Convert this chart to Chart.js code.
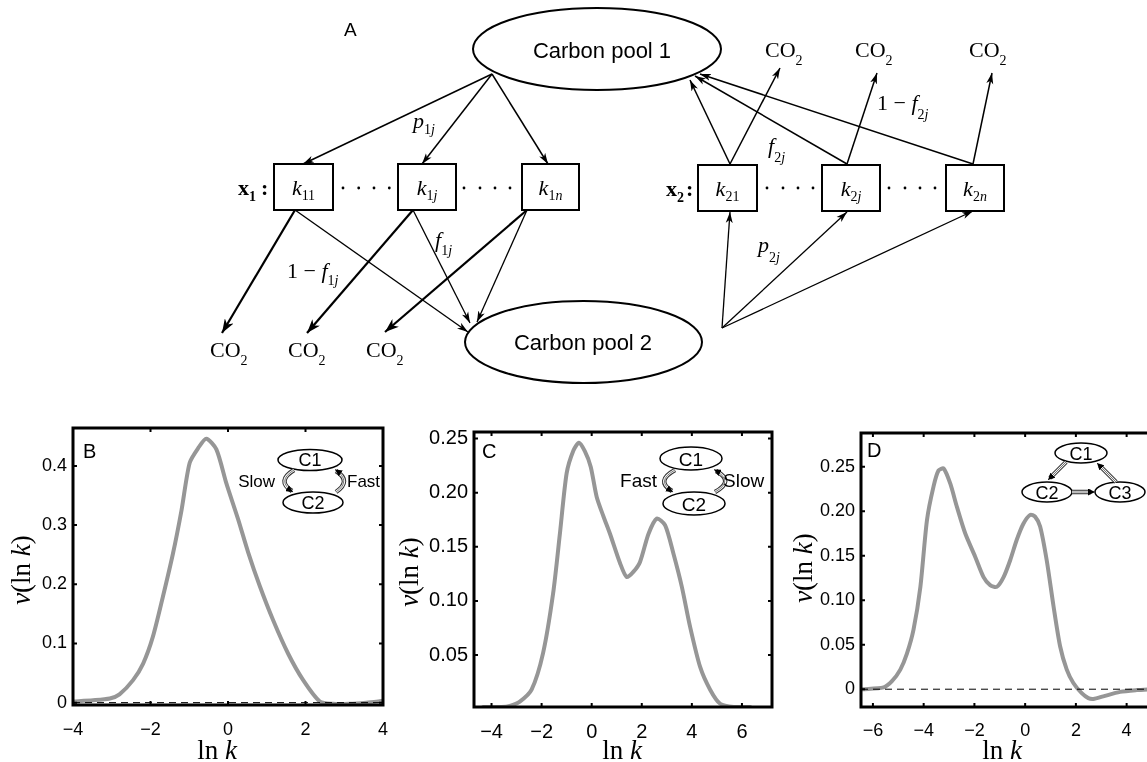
<!DOCTYPE html>
<html><head><meta charset="utf-8">
<script src="https://cdn.jsdelivr.net/npm/chart.js@4.4.0/dist/chart.umd.min.js"></script>
<style>
html,body{margin:0;padding:0;background:#fff;}
body{width:1147px;height:762px;position:relative;overflow:hidden;}
canvas{position:absolute;top:420px;}
#ov{position:absolute;left:0;top:0;width:1147px;height:762px;pointer-events:none;}
.s{font-family:"Liberation Sans",Arial,sans-serif;}
.t{font-family:"Liberation Serif","Times New Roman",serif;}
</style></head><body>
<canvas id="cB" width="400" height="342" style="left:0px"></canvas>
<canvas id="cC" width="380" height="342" style="left:400px"></canvas>
<canvas id="cD" width="380" height="342" style="left:780px"></canvas>
<svg id="ov" width="1147" height="762" xmlns="http://www.w3.org/2000/svg">
<defs>
<marker id="ah" markerUnits="userSpaceOnUse" markerWidth="12" markerHeight="8" refX="11" refY="4" orient="auto"><path d="M0,0.5 L11,4 L0,7.5 L3,4 Z" fill="#000"/></marker>
<marker id="ahb" markerUnits="userSpaceOnUse" markerWidth="15" markerHeight="10" refX="14" refY="5" orient="auto"><path d="M0,0 L14,5 L0,10 L4,5 Z" fill="#000"/></marker>
<marker id="ahs" markerUnits="userSpaceOnUse" markerWidth="8" markerHeight="7" refX="7" refY="3.5" orient="auto"><path d="M0,0 L7,3.5 L0,7 Z" fill="#000"/></marker>
</defs>
<!-- Diagram A -->
<text x="344" y="36" class="s" font-size="19">A</text>
<ellipse cx="597" cy="49" rx="124" ry="41" fill="none" stroke="#000" stroke-width="2"/>
<text x="602" y="58" class="s" font-size="22" text-anchor="middle">Carbon pool 1</text>
<ellipse cx="583.5" cy="342" rx="118.5" ry="41" fill="none" stroke="#000" stroke-width="2"/>
<text x="583" y="350" class="s" font-size="22" text-anchor="middle">Carbon pool 2</text>
<g fill="none" stroke="#000" stroke-width="2">
<rect x="274" y="164" width="59" height="46"/>
<rect x="398" y="164" width="58" height="46"/>
<rect x="522" y="164" width="57" height="46"/>
<rect x="698" y="165" width="59" height="46"/>
<rect x="822" y="165" width="58" height="46"/>
<rect x="946" y="165" width="58" height="46"/>
</g>
<g class="t" font-size="22" text-anchor="middle">
<text x="303.5" y="195"><tspan font-style="italic">k</tspan><tspan font-size="14" dy="5">11</tspan></text>
<text x="427" y="195"><tspan font-style="italic">k</tspan><tspan font-size="14" dy="5">1</tspan><tspan font-size="14" font-style="italic">j</tspan></text>
<text x="550.5" y="195"><tspan font-style="italic">k</tspan><tspan font-size="14" dy="5">1</tspan><tspan font-size="14" font-style="italic">n</tspan></text>
<text x="727.5" y="196"><tspan font-style="italic">k</tspan><tspan font-size="14" dy="5">21</tspan></text>
<text x="851" y="196"><tspan font-style="italic">k</tspan><tspan font-size="14" dy="5">2</tspan><tspan font-size="14" font-style="italic">j</tspan></text>
<text x="975" y="196"><tspan font-style="italic">k</tspan><tspan font-size="14" dy="5">2</tspan><tspan font-size="14" font-style="italic">n</tspan></text>
</g>
<text x="238" y="195" class="t" font-size="22" font-weight="bold">x<tspan font-size="14" dy="6">1</tspan></text>
<text x="261" y="195" class="t" font-size="22" font-weight="bold">:</text>
<text x="666" y="196" class="t" font-size="22" font-weight="bold">x<tspan font-size="14" dy="6">2</tspan></text>
<text x="686" y="196" class="t" font-size="22" font-weight="bold">:</text>
<g fill="#000">
<circle cx="343" cy="188" r="1.4"/><circle cx="358.7" cy="188" r="1.4"/><circle cx="374" cy="188" r="1.4"/><circle cx="389.3" cy="188" r="1.4"/>
<circle cx="464" cy="188" r="1.4"/><circle cx="480" cy="188" r="1.4"/><circle cx="495" cy="188" r="1.4"/><circle cx="510" cy="188" r="1.4"/>
<circle cx="767" cy="188" r="1.4"/><circle cx="783" cy="188" r="1.4"/><circle cx="798" cy="188" r="1.4"/><circle cx="813" cy="188" r="1.4"/>
<circle cx="889" cy="188" r="1.4"/><circle cx="905" cy="188" r="1.4"/><circle cx="920" cy="188" r="1.4"/><circle cx="935" cy="188" r="1.4"/>
</g>
<g class="t" font-size="22">
<text x="210" y="357">CO<tspan font-size="14" dy="8">2</tspan></text>
<text x="288" y="357">CO<tspan font-size="14" dy="8">2</tspan></text>
<text x="366" y="357">CO<tspan font-size="14" dy="8">2</tspan></text>
<text x="765" y="57">CO<tspan font-size="14" dy="8">2</tspan></text>
<text x="855" y="57">CO<tspan font-size="14" dy="8">2</tspan></text>
<text x="969" y="57">CO<tspan font-size="14" dy="8">2</tspan></text>
<text x="413" y="128"><tspan font-style="italic">p</tspan><tspan font-size="14" dy="6">1</tspan><tspan font-size="14" font-style="italic">j</tspan></text>
<text x="435" y="247"><tspan font-style="italic">f</tspan><tspan font-size="14" dy="8">1</tspan><tspan font-size="14" font-style="italic">j</tspan></text>
<text x="287" y="278">1 − <tspan font-style="italic">f</tspan><tspan font-size="14" dy="7">1</tspan><tspan font-size="14" font-style="italic">j</tspan></text>
<text x="768" y="153"><tspan font-style="italic">f</tspan><tspan font-size="14" dy="9">2</tspan><tspan font-size="14" font-style="italic">j</tspan></text>
<text x="877" y="110">1 − <tspan font-style="italic">f</tspan><tspan font-size="14" dy="9">2</tspan><tspan font-size="14" font-style="italic">j</tspan></text>
<text x="758" y="252"><tspan font-style="italic">p</tspan><tspan font-size="14" dy="10">2</tspan><tspan font-size="14" font-style="italic">j</tspan></text>
</g>
<g stroke="#000" fill="none">
<g stroke-width="1.5" marker-end="url(#ah)">
<line x1="492" y1="74" x2="303" y2="164"/>
<line x1="492" y1="74" x2="422" y2="164"/>
<line x1="492" y1="74" x2="548" y2="164"/>
<line x1="730" y1="164" x2="690" y2="80"/>
<line x1="847" y1="164" x2="695" y2="76"/>
<line x1="973" y1="164" x2="700" y2="74"/>
<line x1="730" y1="164" x2="780" y2="68"/>
<line x1="847" y1="164" x2="877" y2="73"/>
<line x1="973" y1="164" x2="992" y2="73"/>
</g>
<g stroke-width="2.2" marker-end="url(#ahb)">
<line x1="295" y1="210" x2="222" y2="333"/>
<line x1="413" y1="210" x2="307" y2="333"/>
<line x1="527" y1="210" x2="385" y2="332"/>
</g>
<g stroke-width="1.3" marker-end="url(#ah)">
<line x1="295" y1="210" x2="468" y2="332"/>
<line x1="413" y1="210" x2="470" y2="323"/>
<line x1="527" y1="210" x2="477" y2="322"/>
<line x1="722" y1="328" x2="730" y2="212"/>
<line x1="722" y1="328" x2="847" y2="212"/>
<line x1="722" y1="328" x2="973" y2="211"/>
</g>
</g>
<!-- panel letters -->
<text x="83" y="458" class="s" font-size="20">B</text>
<text x="482" y="458" class="s" font-size="20">C</text>
<text x="867" y="457" class="s" font-size="20">D</text>
<!-- axis titles -->
<g class="t" font-size="27" text-anchor="middle">
<text transform="translate(30,570) rotate(-90)"><tspan font-style="italic">ν</tspan>(ln <tspan font-style="italic">k</tspan>)</text>
<text transform="translate(418,572) rotate(-90)"><tspan font-style="italic">ν</tspan>(ln <tspan font-style="italic">k</tspan>)</text>
<text transform="translate(812,568) rotate(-90)"><tspan font-style="italic">ν</tspan>(ln <tspan font-style="italic">k</tspan>)</text>
<text x="217" y="759">ln <tspan font-style="italic">k</tspan></text>
<text x="622" y="759">ln <tspan font-style="italic">k</tspan></text>
<text x="1002" y="759">ln <tspan font-style="italic">k</tspan></text>
</g>
<!-- insets -->
<g id="insets">
<g fill="#fff" stroke="#000" stroke-width="1.5">
<ellipse cx="310" cy="460" rx="32" ry="10.5"/>
<ellipse cx="313" cy="502.5" rx="30" ry="10.5"/>
<ellipse cx="691" cy="458.5" rx="31" ry="11.5"/>
<ellipse cx="694" cy="503.5" rx="31" ry="11.5"/>
<ellipse cx="1081" cy="453" rx="26" ry="10"/>
<ellipse cx="1047" cy="492" rx="25" ry="10"/>
<ellipse cx="1120" cy="492" rx="25" ry="10"/>
</g>
<g fill="none" stroke-linecap="butt">
<g stroke="#333" stroke-width="4.5">
<path d="M294 470 Q276 481 292 491"/><path d="M336 492 Q352 481 336 471"/>
<path d="M675 470 Q655 481 672 491"/><path d="M715 492 Q735 481 716 471"/>
<path d="M1066 462 L1050 478"/><path d="M1072 492 L1091 492"/><path d="M1116 482 L1100 466"/>
</g>
<g stroke="#fff" stroke-width="2.4">
<path d="M294 470 Q276 481 292 491"/><path d="M336 492 Q352 481 336 471"/>
<path d="M675 470 Q655 481 672 491"/><path d="M715 492 Q735 481 716 471"/>
<path d="M1066 462 L1050 478"/><path d="M1072 492 L1091 492"/><path d="M1116 482 L1100 466"/>
</g>
<g stroke="#555" stroke-width="0.8" marker-end="url(#ahs)">
<path d="M294 470 Q276 481 293 492"/><path d="M336 492 Q352 481 335 469.5"/>
<path d="M675 470 Q655 481 673 492"/><path d="M715 492 Q735 481 714 469.5"/>
<path d="M1066 462 L1048 480"/><path d="M1072 492 L1095 492"/><path d="M1116 482 L1097 463"/>
</g>
</g>
<g class="s" text-anchor="middle">
<text x="310" y="466" font-size="18">C1</text>
<text x="313" y="509" font-size="18">C2</text>
<text x="691" y="465.5" font-size="19">C1</text>
<text x="694" y="510.5" font-size="19">C2</text>
<text x="1081" y="459.5" font-size="18">C1</text>
<text x="1047" y="498.5" font-size="18">C2</text>
<text x="1120" y="498.5" font-size="18">C3</text>
</g>
<g class="s">
<text x="275" y="487" font-size="17" text-anchor="end">Slow</text>
<text x="347" y="487" font-size="17">Fast</text>
<text x="657" y="487" font-size="19" text-anchor="end">Fast</text>
<text x="723" y="487" font-size="19">Slow</text>
</g>
</g>
</svg>
<script>
// ---- Panel B data ----
const bLnK = [-4, -3.48, -3.05, -2.8, -2.45, -2.19, -1.94, -1.68, -1.42, -1.2, -0.99, -0.77, -0.56, -0.3, -0.04, 0.26, 0.52, 0.82, 1.16, 1.55, 1.94, 2.37, 2.71, 3.14, 3.57, 4];
const bNu  = [0.002, 0.004, 0.007, 0.014, 0.038, 0.066, 0.111, 0.179, 0.252, 0.325, 0.405, 0.43, 0.446, 0.428, 0.37, 0.31, 0.254, 0.197, 0.14, 0.083, 0.038, 0.002, -0.002, -0.002, 0, 0.003];
const bXTicks = [-4, -2, 0, 2, 4];
const bXTickLabels = ['\u22124', '\u22122', '0', '2', '4'];
const bYTicks = [0, 0.1, 0.2, 0.3, 0.4];
const bYTickLabels = ['0', '0.1', '0.2', '0.3', '0.4'];
// ---- Panel C data ----
const cLnK = [-4.33, -3.6, -3.27, -2.87, -2.4, -1.94, -1.54, -1.27, -1.0, -0.73, -0.51, -0.27, -0.04, 0.2, 0.47, 0.73, 1.13, 1.4, 1.67, 1.93, 2.27, 2.6, 2.93, 3.26, 3.6, 3.93, 4.33, 4.73, 5.13, 5.67, 6.33];
const cNu  = [0.002, 0.002, 0.003, 0.007, 0.018, 0.052, 0.107, 0.162, 0.218, 0.239, 0.246, 0.238, 0.224, 0.196, 0.178, 0.162, 0.135, 0.122, 0.127, 0.136, 0.162, 0.176, 0.170, 0.144, 0.113, 0.076, 0.039, 0.018, 0.005, 0.002, 0.002];
const cXTicks = [-4, -2, 0, 2, 4, 6];
const cXTickLabels = ['\u22124', '\u22122', '0', '2', '4', '6'];
const cYTicks = [0.05, 0.10, 0.15, 0.20, 0.25];
const cYTickLabels = ['0.05', '0.10', '0.15', '0.20', '0.25'];
// ---- Panel D data ----
const dLnK = [-6.43, -5.58, -5.25, -4.92, -4.66, -4.4, -4.13, -3.87, -3.61, -3.41, -3.21, -2.95, -2.69, -2.36, -1.97, -1.64, -1.38, -1.12, -0.85, -0.59, -0.33, -0.07, 0.2, 0.39, 0.59, 0.85, 1.12, 1.38, 1.64, 1.9, 2.23, 2.49, 2.69, 3.08, 3.74, 4.4, 5.0];
const dNu  = [0, 0.002, 0.009, 0.022, 0.04, 0.067, 0.115, 0.19, 0.228, 0.246, 0.248, 0.231, 0.205, 0.175, 0.149, 0.126, 0.117, 0.115, 0.126, 0.145, 0.168, 0.186, 0.196, 0.194, 0.183, 0.145, 0.093, 0.048, 0.022, 0.007, -0.0045, -0.010, -0.011, -0.008, -0.003, -0.001, 0];
const dXTicks = [-6, -4, -2, 0, 2, 4];
const dXTickLabels = ['\u22126', '\u22124', '\u22122', '0', '2', '4'];
const dYTicks = [0, 0.05, 0.10, 0.15, 0.20, 0.25];
const dYTickLabels = ['0', '0.05', '0.10', '0.15', '0.20', '0.25'];

const framePlugin = {
  id: 'frame',
  afterDraw(chart) {
    const {ctx, chartArea: a, scales: {x, y}} = chart;
    ctx.save();
    ctx.strokeStyle = '#000';
    ctx.lineWidth = 2;
    const L = 4;
    ctx.beginPath();
    x.ticks.forEach(t => {
      const p = x.getPixelForValue(t.value);
      ctx.moveTo(p, a.bottom); ctx.lineTo(p, a.bottom - L);
      ctx.moveTo(p, a.top); ctx.lineTo(p, a.top + L);
    });
    y.ticks.forEach(t => {
      const p = y.getPixelForValue(t.value);
      ctx.moveTo(a.left, p); ctx.lineTo(a.left + L, p);
      ctx.moveTo(a.right, p); ctx.lineTo(a.right - L, p);
    });
    ctx.stroke();
    ctx.lineWidth = 3;
    ctx.strokeRect(a.left, a.top, a.width, a.height);
    ctx.restore();
  }
};

function makeChart(id, xs, ys, o) {
  const datasets = [{
    data: xs.map((v, i) => ({x: v, y: ys[i]})),
    borderColor: '#969696', borderWidth: 4, pointRadius: 0, tension: 0.25,
    borderJoinStyle: 'round', borderCapStyle: 'round', order: 2
  }];
  if (o.dashed) {
    datasets.push({
      data: [{x: o.xMin, y: 0}, {x: o.xMax, y: 0}],
      borderColor: '#000', borderWidth: 1, borderDash: [7, 5], pointRadius: 0, order: 1
    });
  }
  const font = {family: 'Liberation Sans', size: o.fs};
  const chart = new Chart(document.getElementById(id), {
    type: 'line',
    data: {datasets},
    options: {
      responsive: false, animation: false, devicePixelRatio: 1,
      layout: {padding: {left: 0, right: 0, top: 0, bottom: 0}},
      plugins: {legend: {display: false}, tooltip: {enabled: false}},
      scales: {
        x: {
          type: 'linear', min: o.xMin, max: o.xMax,
          afterBuildTicks: s => { s.ticks = o.xTicks.map(v => ({value: v})); },
          afterFit: s => { s.height = o.xH; s.paddingLeft = 0; s.paddingRight = 0; },
          ticks: {callback: (v, i) => o.xLabels[i], font, color: '#000', padding: o.xPad, maxRotation: 0, autoSkip: false},
          grid: {display: false, drawTicks: false, tickLength: 0},
          border: {display: false}
        },
        y: {
          type: 'linear', min: o.yMin, max: o.yMax,
          afterBuildTicks: s => { s.ticks = o.yTicks.map(v => ({value: v})); },
          afterFit: s => { s.width = o.yW; s.paddingTop = 0; s.paddingBottom = 0; },
          ticks: {callback: (v, i) => o.yLabels[i], font, color: '#000', padding: 6, autoSkip: false},
          grid: {display: false, drawTicks: false, tickLength: 0},
          border: {display: false}
        }
      }
    },
    plugins: [framePlugin]
  });
  // adjust layout padding so that the plot frame lands where the reference puts it
  for (let k = 0; k < 4; k++) {
    const a = chart.chartArea;
    const p = chart.config.options.layout.padding;
    const dl = o.area[0] - a.left, dr = a.right - o.area[1], dt = o.area[2] - a.top, db = a.bottom - o.area[3];
    if (Math.abs(dl) + Math.abs(dr) + Math.abs(dt) + Math.abs(db) < 0.5) break;
    chart.config.options.layout.padding = {left: p.left + dl, right: p.right + dr, top: p.top + dt, bottom: p.bottom + db};
    chart.update('none');
  }
  return chart;
}

makeChart('cB', bLnK, bNu, {xMin: -4, xMax: 4, yMin: -0.004, yMax: 0.464, xTicks: bXTicks, xLabels: bXTickLabels,
  yTicks: bYTicks, yLabels: bYTickLabels, yW: 73, xH: 57, area: [73, 383, 8, 285], fs: 18, xPad: 14, dashed: true});
makeChart('cC', cLnK, cNu, {xMin: -4.7, xMax: 7.2, yMin: 0.002, yMax: 0.256, xTicks: cXTicks, xLabels: cXTickLabels,
  yTicks: cYTicks, yLabels: cYTickLabels, yW: 74, xH: 55, area: [74, 372, 12, 287], fs: 20, xPad: 13, dashed: false});
makeChart('cD', dLnK, dNu, {xMin: -6.47, xMax: 5.0, yMin: -0.02, yMax: 0.288, xTicks: dXTicks, xLabels: dXTickLabels,
  yTicks: dYTicks, yLabels: dYTickLabels, yW: 81, xH: 55, area: [81, 372, 13, 287], fs: 18, xPad: 13, dashed: true});
</script>
</body></html>
